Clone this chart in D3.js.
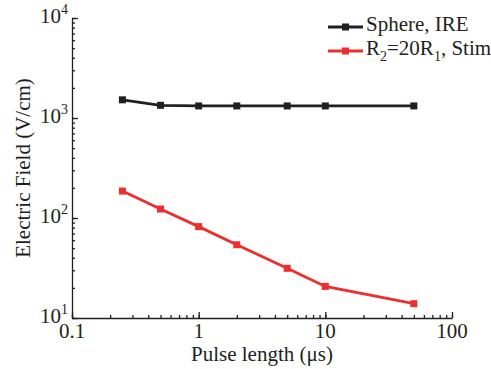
<!DOCTYPE html>
<html><head><meta charset="UTF-8"></head>
<body style="margin:0">
<svg id="s" width="491" height="369"></svg>
<script src="https://d3js.org/d3.v7.min.js"></script>
<script>
// data
const pulseLength = [0.25, 0.5, 1, 2, 5, 10, 50];
const sphereIRE = [1520, 1340, 1320, 1320, 1320, 1320, 1320];
const stim = [186, 123, 82, 54, 31.4, 20.7, 13.9];
const seriesNames = ["Sphere, IRE", "R2=20R1, Stim"];
const seriesColors = ["#231f20", "#ee2d2d"];
const xTicks = [0.1, 1, 10, 100];
const yTicks = [10, 100, 1000, 10000];

const INK = "#231f20";
const svg = d3.select("#s");
const plotLeft = 72, plotRight = 452, plotTop = 18, plotBottom = 318;

const x = d3.scaleLog().domain([0.1, 100]).range([plotLeft, plotRight]);
const y = d3.scaleLog().domain([10, 10000]).range([plotBottom, plotTop]);

function addText(parent, str) {
    return parent.append("text")
        .attr("font-family", "Times New Roman")
        .attr("font-size", 21)
        .attr("fill", INK)
        .text(str);
}

// minor ticks
svg.append("g")
    .attr("transform", `translate(0,${plotBottom})`)
    .attr("color", INK)
    .call(d3.axisBottom(x).ticks(10).tickSize(-3).tickFormat(""))
    .call(g => g.select(".domain").remove())
    .call(g => g.selectAll("line").attr("stroke-width", 1.3));
svg.append("g")
    .attr("transform", `translate(${plotLeft},0)`)
    .attr("color", INK)
    .call(d3.axisLeft(y).ticks(10).tickSize(-3).tickFormat(""))
    .call(g => g.select(".domain").remove())
    .call(g => g.selectAll("line").attr("stroke-width", 1.3));

// major ticks + axis lines (labels drawn separately below)
svg.append("g")
    .attr("transform", `translate(0,${plotBottom})`)
    .attr("color", INK)
    .call(d3.axisBottom(x).tickValues(xTicks).tickSizeInner(-6).tickSizeOuter(0).tickFormat(""))
    .call(g => g.selectAll("path, line").attr("stroke-width", 1.3))
    .call(g => g.selectAll("text").remove());
svg.append("g")
    .attr("transform", `translate(${plotLeft},0)`)
    .attr("color", INK)
    .call(d3.axisLeft(y).tickValues(yTicks).tickSizeInner(-6).tickSizeOuter(0).tickFormat(""))
    .call(g => g.selectAll("path, line").attr("stroke-width", 1.3))
    .call(g => g.selectAll("text").remove());

// x tick labels
xTicks.forEach(v => {
    addText(svg, d3.format("~g")(v))
        .attr("x", x(v)).attr("y", plotBottom + 20)
        .attr("text-anchor", "middle");
});

// y tick labels: 10 with superscript exponent
yTicks.forEach(v => {
    const t = addText(svg, "")
        .attr("x", plotLeft - 4).attr("y", y(v) + 5)
        .attr("text-anchor", "end");
    t.append("tspan").text("10");
    t.append("tspan").attr("font-size", 14).attr("dy", -9).text(Math.round(Math.log10(v)));
});

// axis titles
addText(svg, "Pulse length (\u03bcs)")
    .attr("x", (plotLeft + plotRight) / 2).attr("y", 361)
    .attr("text-anchor", "middle");
addText(svg, "Electric Field (V/cm)")
    .attr("transform", "translate(30,168) rotate(-90)")
    .attr("text-anchor", "middle");

// series
const series = [sphereIRE, stim];
const line = d3.line().x((d, i) => x(pulseLength[i])).y(d => y(d));
series.forEach((vals, s) => {
    svg.append("path")
        .datum(vals)
        .attr("fill", "none")
        .attr("stroke", seriesColors[s])
        .attr("stroke-width", 2.8)
        .attr("d", line);
    svg.selectAll(null)
        .data(vals)
        .join("rect")
        .attr("x", (d, i) => x(pulseLength[i]) - 3.5)
        .attr("y", d => y(d) - 3.5)
        .attr("width", 7).attr("height", 7)
        .attr("fill", seriesColors[s]);
});

// legend
seriesNames.forEach((name, i) => {
    const ly = 27 + i * 24;
    svg.append("line")
        .attr("x1", 328).attr("x2", 363).attr("y1", ly).attr("y2", ly)
        .attr("stroke", seriesColors[i]).attr("stroke-width", 2.8);
    svg.append("rect")
        .attr("x", 342).attr("y", ly - 3.5)
        .attr("width", 7).attr("height", 7)
        .attr("fill", seriesColors[i]);
    const t = addText(svg, i === 0 ? name : "")
        .attr("x", 366).attr("y", ly + 4);
    if (i === 1) {
        t.append("tspan").text("R");
        t.append("tspan").attr("font-size", 14).attr("dy", 6).text("2");
        t.append("tspan").attr("dy", -6).text("=20R");
        t.append("tspan").attr("font-size", 14).attr("dy", 6).text("1");
        t.append("tspan").attr("dy", -6).text(", Stim");
    }
});
</script>
</body>
</html>
